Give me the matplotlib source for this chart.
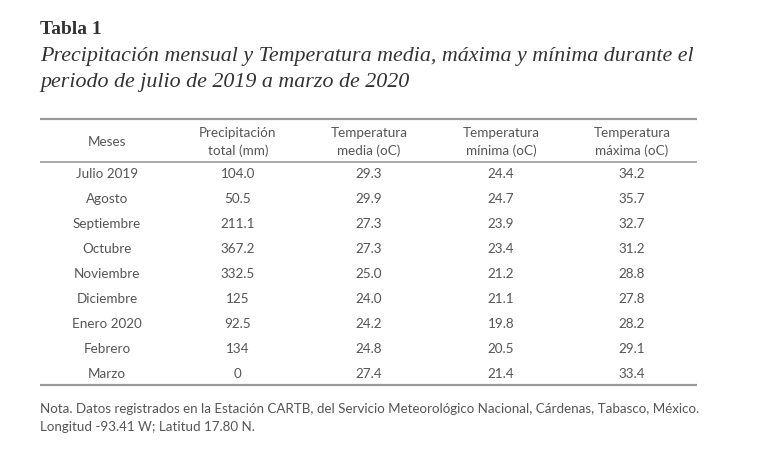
import matplotlib.pyplot as plt

# Table contents
headers = [["Meses"], ["Precipitación", "total (mm)"], ["Temperatura", "media (oC)"],
           ["Temperatura", "mínima (oC)"], ["Temperatura", "máxima (oC)"]]
meses = ["Julio 2019", "Agosto", "Septiembre", "Octubre", "Noviembre",
         "Diciembre", "Enero 2020", "Febrero", "Marzo"]
precipitacion = ["104.0", "50.5", "211.1", "367.2", "332.5", "125", "92.5", "134", "0"]
temp_media = ["29.3", "29.9", "27.3", "27.3", "25.0", "24.0", "24.2", "24.8", "27.4"]
temp_minima = ["24.4", "24.7", "23.9", "23.4", "21.2", "21.1", "19.8", "20.5", "21.4"]
temp_maxima = ["34.2", "35.7", "32.7", "31.2", "28.8", "27.8", "28.2", "29.1", "33.4"]

titulo = "Tabla 1"
subtitulo = ["Precipitación mensual y Temperatura media, máxima y mínima durante el",
             "periodo de julio de 2019 a marzo de 2020"]
nota = ["Nota. Datos registrados en la Estación CARTB, del Servicio Meteorológico Nacional, Cárdenas, Tabasco, México.",
        "Longitud -93.41 W; Latitud 17.80 N."]

fig = plt.figure(figsize=(7.61, 4.58), dpi=100)
ax = fig.add_axes([0, 0, 1, 1])
ax.set_xlim(0, 761)
ax.set_ylim(458, 0)
ax.axis("off")

serif = "Liberation Serif"
sans = "Lato"
txt_color = "#555555"

ax.text(40, 30, titulo, fontsize=14, fontweight="bold", family=serif,
        color="#333333", va="center")
for i, line in enumerate(subtitulo):
    ax.text(40, 57 + i * 26, line, fontsize=15.8, style="italic", family=serif,
            color="#333333", va="center")

# rules
ax.hlines([119, 385], 40, 697, color="#999999", lw=1.6)
ax.hlines(162, 40, 697, color="#999999", lw=1.2)

col_x = [107, 238, 369, 501, 632]
for x, h in zip(col_x, headers):
    if len(h) == 1:
        ax.text(x, 142, h[0], fontsize=9.7, family=sans, color=txt_color,
                ha="center", va="center")
    else:
        ax.text(x, 133, h[0], fontsize=9.7, family=sans, color=txt_color,
                ha="center", va="center")
        ax.text(x, 151, h[1], fontsize=9.7, family=sans, color=txt_color,
                ha="center", va="center")

columns = [meses, precipitacion, temp_media, temp_minima, temp_maxima]
for j, col in enumerate(columns):
    for i, val in enumerate(col):
        ax.text(col_x[j], 174 + i * 25, val, fontsize=9.7, family=sans,
                color=txt_color, ha="center", va="center")

for i, line in enumerate(nota):
    ax.text(40, 409 + i * 18, line, fontsize=9.6, family=sans,
            color=txt_color, va="center")

fig.savefig("out.png", dpi=100)
